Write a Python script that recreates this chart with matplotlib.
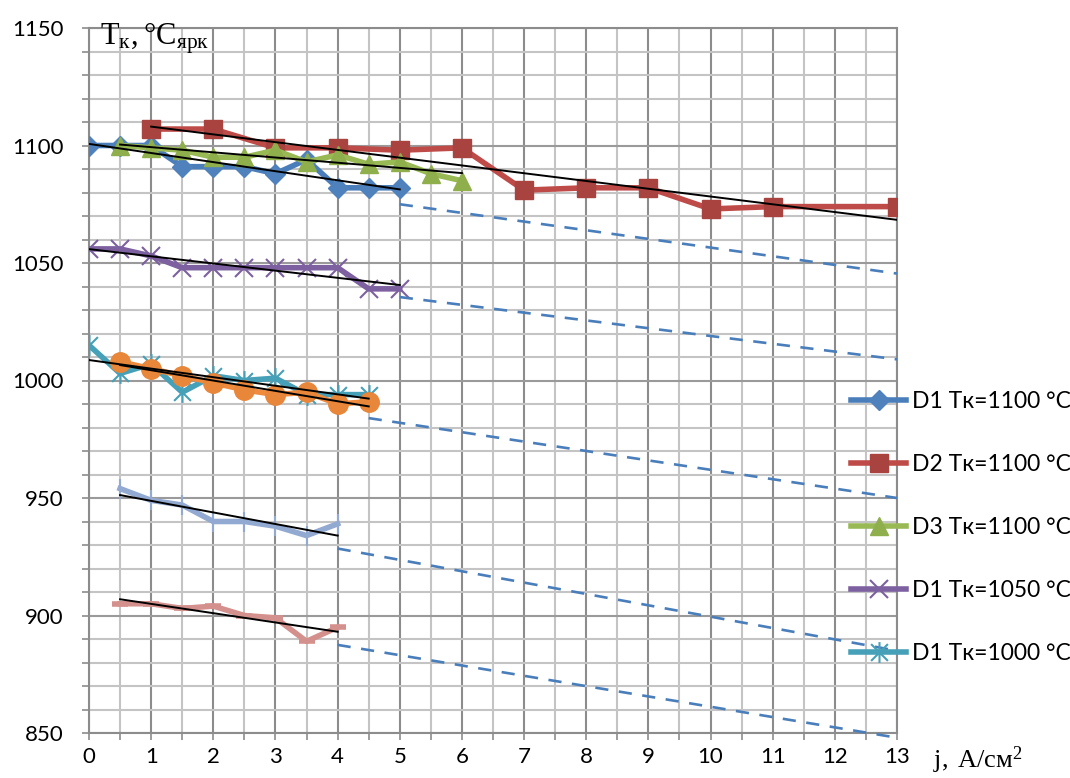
import numpy as np
import matplotlib
matplotlib.use('Agg')
import matplotlib.pyplot as plt
from matplotlib.path import Path
from matplotlib.ticker import MultipleLocator

# --- data ---
x_d1_1100 = [0, 0.5, 1, 1.5, 2, 2.5, 3, 3.5, 4, 4.5, 5]
y_d1_1100 = [1100, 1100, 1100, 1091, 1091, 1091, 1088, 1094, 1082, 1082, 1082]

x_d2_1100 = [1, 2, 3, 4, 5, 6, 7, 8, 9, 10, 11, 13]
y_d2_1100 = [1107, 1107, 1099, 1099, 1098, 1099, 1081, 1082, 1082, 1073, 1074, 1074]

x_d3_1100 = [0.5, 1, 1.5, 2, 2.5, 3, 3.5, 4, 4.5, 5, 5.5, 6]
y_d3_1100 = [1100, 1099, 1098, 1095, 1095, 1098, 1093, 1096, 1092, 1093, 1088, 1085]

x_d1_1050 = [0, 0.5, 1, 1.5, 2, 2.5, 3, 3.5, 4, 4.5, 5]
y_d1_1050 = [1056, 1056, 1053, 1048, 1048, 1048, 1048, 1048, 1048, 1039, 1039]

x_d1_1000 = [0, 0.5, 1, 1.5, 2, 2.5, 3, 3.5, 4, 4.5]
y_d1_1000 = [1015, 1003, 1007, 995, 1002, 1000, 1001, 994, 994, 994]

x_orange = [0.5, 1, 1.5, 2, 2.5, 3, 3.5, 4, 4.5]
y_orange = [1008, 1005, 1002, 999, 996, 994, 995, 990, 991]

x_lblue = [0.5, 1, 1.5, 2, 2.5, 3, 3.5, 4]
y_lblue = [954, 949, 947, 940, 940, 938, 934, 939]

x_lred = [0.5, 1, 1.5, 2, 2.5, 3, 3.5, 4]
y_lred = [905, 905, 903, 904, 900, 899, 889, 895]

# extrapolation (dashed) segments: start/end
dash_x0 = [5, 5, 4.5, 4, 4]
dash_y0 = [1075, 1035.5, 984, 928.5, 887.5]
dash_x1 = [13, 13, 13, 13, 13]
dash_y1 = [1045.5, 1009, 950, 885, 848]

labels = ['D1 Tк=1100 °C', 'D2 Tк=1100 °C', 'D3 Tк=1100 °C',
          'D1 Tк=1050 °C', 'D1 Tк=1000 °C']

plt.rcParams['font.family'] = ['Lato', 'DejaVu Sans']

W, H = 1070, 778
fig = plt.figure(figsize=(W / 100, H / 100), dpi=100)
L, R, T, B = 89, 897, 28, 733
ax = fig.add_axes([L / W, (H - B) / H, (R - L) / W, (B - T) / H])

ax.set_xlim(0, 13)
ax.set_ylim(850, 1150)
ax.xaxis.set_major_locator(MultipleLocator(1))
ax.xaxis.set_minor_locator(MultipleLocator(0.5))
ax.yaxis.set_major_locator(MultipleLocator(50))
ax.yaxis.set_minor_locator(MultipleLocator(10))

ax.grid(which='major', axis='x', color='#8c8c8c', lw=1.5, zorder=0)
ax.grid(which='minor', axis='x', color='#c4c4c4', lw=1.5, zorder=0)
ax.grid(which='major', axis='y', color='#9a9a9a', lw=1.5, zorder=0)
ax.grid(which='minor', axis='y', color='#c4c4c4', lw=1.5, zorder=0)
ax.set_axisbelow(True)
for s in ax.spines.values():
    s.set_color('#8c8c8c')
    s.set_linewidth(1.5)

ax.tick_params(which='both', direction='out', length=5, width=1.2, color='#8c8c8c')
ax.tick_params(axis='y', which='major', labelsize=16, pad=13)
ax.tick_params(axis='x', which='major', labelsize=16, pad=5)

star = Path([(-0.5, -0.5), (0.5, 0.5), (-0.5, 0.5), (0.5, -0.5), (0, -0.62), (0, 0.62)],
            [Path.MOVETO, Path.LINETO] * 3)

lw = 4
h1, = ax.plot(x_d1_1100, y_d1_1100, color='#4a7ebb', lw=lw, marker='D', ms=10,
              mfc='#4f81bd', mec='#4f81bd', zorder=3)
h2, = ax.plot(x_d2_1100, y_d2_1100, color='#be4b48', lw=lw, marker='s', ms=13.5,
              mfc='#a84340', mec='#a84340', zorder=3)
h3, = ax.plot(x_d3_1100, y_d3_1100, color='#98b954', lw=lw, marker='^', ms=13,
              mfc='#8fae4c', mec='#8fae4c', zorder=3)
h4, = ax.plot(x_d1_1050, y_d1_1050, color='#7d60a0', lw=lw, marker='x', ms=13,
              mec='#7d60a0', mew=1.5, zorder=3)
h5, = ax.plot(x_d1_1000, y_d1_1000, color='#46a0b8', lw=lw, marker=star, ms=15,
              mec='#46a0b8', mew=1.5, zorder=3)
ax.plot(x_orange, y_orange, color='#f08a3c', lw=lw, marker='o', ms=14,
        mfc='#e8863a', mec='#e8863a', zorder=3)
ax.plot(x_lblue, y_lblue, color='#92a9d1', lw=lw, marker='|', ms=14,
        mec='#92a9d1', mew=1.5, zorder=3)
ax.plot(x_lred, y_lred, color='#d4908d', lw=lw, marker='_', ms=12,
        mec='#d4908d', mew=4, zorder=3)

# linear trend lines
for xs, ys in [(x_d1_1100, y_d1_1100), (x_d2_1100, y_d2_1100), (x_d3_1100, y_d3_1100),
               (x_d1_1050, y_d1_1050), (x_d1_1000, y_d1_1000), (x_orange, y_orange),
               (x_lblue, y_lblue), (x_lred, y_lred)]:
    k, b = np.polyfit(xs, ys, 1)
    xx = np.array([xs[0], xs[-1]])
    ax.plot(xx, k * xx + b, color='black', lw=1.4, zorder=5)

for xa, ya, xb, yb in zip(dash_x0, dash_y0, dash_x1, dash_y1):
    ax.plot([xa, xb], [ya, yb], color='#4a7ebb', lw=1.9, ls=(0, (5, 4)), zorder=4,
            clip_on=False)

fig.legend([h1, h2, h3, h4, h5], labels, loc='upper left',
           bbox_to_anchor=(842 / W, 1 - 382 / H), frameon=False, fontsize=16.5,
           handlelength=2.4, handletextpad=0.25, labelspacing=1.83, borderaxespad=0)

serif = ['Liberation Serif', 'DejaVu Serif']
fig.text(100 / W, 1 - 44 / H, r'$\mathregular{T_{к},°C_{ярк}}$', family=serif,
         fontsize=22, ha='left', va='baseline')
fig.text(933 / W, 1 - 768 / H, r'$\mathregular{j,\,A/см^{2}}$', family=serif,
         fontsize=19, ha='left', va='baseline')

fig.savefig('out.png', dpi=100)
